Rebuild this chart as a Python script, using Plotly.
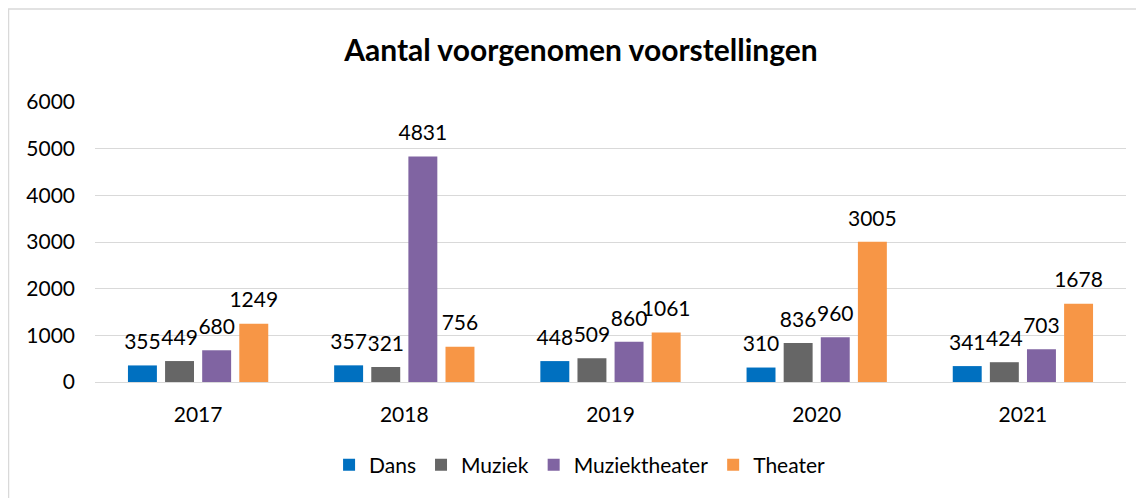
import plotly.graph_objects as go

years = ["2017", "2018", "2019", "2020", "2021"]
dans = [355, 357, 448, 310, 341]
muziek = [449, 321, 509, 836, 424]
muziektheater = [680, 4831, 860, 960, 703]
theater = [1249, 756, 1061, 3005, 1678]

series = [
    ("Dans", dans, "#0070C0"),
    ("Muziek", muziek, "#666666"),
    ("Muziektheater", muziektheater, "#8064A2"),
    ("Theater", theater, "#F79646"),
]

FONT = "Lato, 'Open Sans', sans-serif"

fig = go.Figure()
for name, vals, col in series:
    fig.add_trace(go.Bar(
        name=name, x=years, y=vals, marker=dict(color=col, line=dict(width=0)),
        hoverinfo="skip",
    ))
for name, vals, col in series:
    fig.add_trace(go.Scatter(
        name=name, x=years, y=vals, mode="markers+text", showlegend=False,
        marker=dict(size=16, opacity=0, color=col),
        text=[str(v) for v in vals], textposition="top center", cliponaxis=False,
        textfont=dict(size=21, color="#000000", family=FONT),
    ))

# page is offset by the 8px body margin
OFF = 8
W, H = 1136, 490
ml, mr, mt, mb = 95 - OFF, 18, 102 - OFF, 116
pw = W - ml - mr
ph = H - mt - mb

def px(x):
    return (x - OFF - ml) / pw

def py(y):
    return (H - mb - (y - OFF)) / ph

fig.update_layout(
    width=W, height=H,
    margin=dict(l=ml, r=mr, t=mt, b=mb),
    paper_bgcolor="white", plot_bgcolor="white",
    barmode="group", bargap=0.28, bargroupgap=0.22,
    scattermode="group", scattergap=0.28,
    font=dict(family=FONT, size=21, color="#000000"),
    title=dict(text="<b>Aantal voorgenomen voorstellingen</b>", x=(581 - OFF) / W, xanchor="center",
               y=1 - (50 - OFF) / H, yanchor="middle", font=dict(size=30, family=FONT)),
    legend=dict(orientation="h", x=0.47, xanchor="center", y=py(465), yanchor="middle",
                font=dict(size=21), itemwidth=30, tracegroupgap=0),
    yaxis=dict(range=[0, 6000], dtick=1000, showgrid=True, gridcolor="#D9D9D9", gridwidth=1,
               zeroline=False, showline=False, ticks="", ticklabelstandoff=19,
               tickfont=dict(size=21)),
    xaxis=dict(showline=True, linecolor="#D9D9D9", linewidth=1, ticks="", ticklabelstandoff=14,
               tickfont=dict(size=21)),
    shapes=[
        dict(type="line", xref="paper", yref="paper", x0=px(7), x1=px(1144), y0=py(9), y1=py(9),
             line=dict(color="#D9D9D9", width=1.5)),
        dict(type="line", xref="paper", yref="paper", x0=px(8.5), x1=px(8.5), y0=py(9), y1=py(498),
             line=dict(color="#D9D9D9", width=1.5)),
    ],
)

fig.write_html("out.html")
